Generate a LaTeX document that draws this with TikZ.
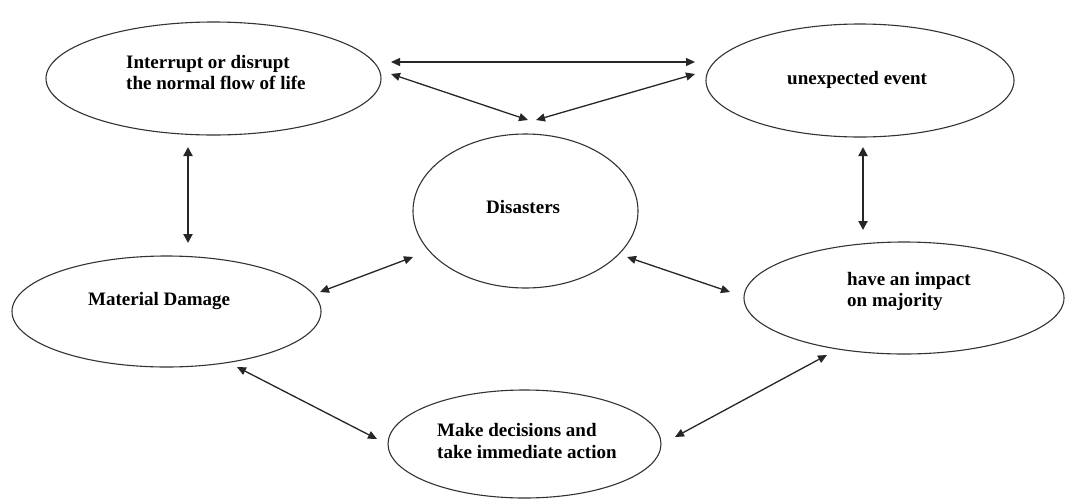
\documentclass[tikz,border=0pt]{standalone}
\usepackage{fontspec}
\setmainfont{Liberation Serif}
\usetikzlibrary{shapes.geometric,arrows.meta,calc}
\begin{document}
\begin{tikzpicture}[x=1pt,y=-1pt,
  bubble/.style={draw=black!80, line width=1.1pt, ellipse, inner sep=0pt, fill=white},
  lbl/.style={anchor=west, align=left, inner sep=0pt, font=\fontsize{19}{21.5}\selectfont\bfseries},
  arr/.style={black!85, line width=1.3pt, {Triangle[length=9pt,width=8pt]}-{Triangle[length=9pt,width=8pt]}},
  varr/.style={black!85, line width=2pt, {Triangle[length=9pt,width=9pt]}-{Triangle[length=9pt,width=9pt]}}]
\useasboundingbox (0,0) rectangle (1066,499);
\fill[white] (0,0) rectangle (1066,499);
% ellipses
\node[bubble, minimum width=335pt, minimum height=113pt] (tl) at (213.5,78.5) {};
\node[bubble, minimum width=308pt, minimum height=113pt] (tr) at (860,80.5) {};
\node[bubble, minimum width=225pt, minimum height=154pt] (dis) at (525.5,211) {};
\node[bubble, minimum width=309pt, minimum height=111pt] (md) at (166.5,311.5) {};
\node[bubble, minimum width=320pt, minimum height=112pt] (hi) at (904,298) {};
\node[bubble, minimum width=273pt, minimum height=108pt] (mk) at (524.5,444) {};
% labels
\node[lbl] (tltext) at (126,72.5) {Interrupt or disrupt\\the normal flow of life};
\node[lbl] (trtext) at (787,80) {unexpected event};
\node[lbl] (distext) at (486,207) {Disasters};
\node[lbl] (mdtext) at (88,301) {Material Damage};
\node[lbl] (hitext) at (847,291.5) {have an impact\\on majority};
\node[lbl] (mktext) at (437,441) {Make decisions and\\take immediate action};
% connectors
\draw[arr] ($(tl)+(177.5,-16.5)$) -- ($(tr)+(-165,-18.5)$);
\draw[arr] ($(tl)+(177.5,-4.5)$) -- ($(dis)+(2.5,-91)$);
\draw[arr] ($(tr)+(-165,-6.5)$) -- ($(dis)+(10.5,-91)$);
\draw[varr] ($(tl)+(-25.5,68.5)$) -- ($(md)+(21.5,-68.5)$);
\draw[varr] ($(tr)+(3,66.5)$) -- ($(hi)+(-41,-68)$);
\draw[arr] ($(md)+(153.5,-19.5)$) -- ($(dis)+(-112.5,46)$);
\draw[arr] ($(dis)+(101.5,46)$) -- ($(hi)+(-174,-6)$);
\draw[arr] ($(md)+(70.5,55.5)$) -- ($(mk)+(-147.5,-5)$);
\draw[arr] ($(mk)+(150.5,-7)$) -- ($(hi)+(-77,57)$);
\end{tikzpicture}
\end{document}
